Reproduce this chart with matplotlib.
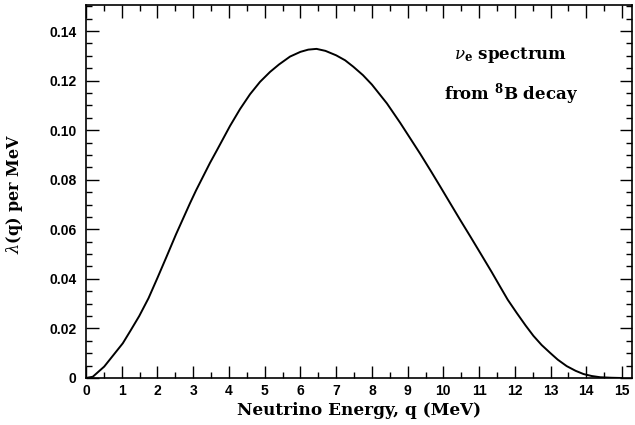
import numpy as np
import matplotlib
matplotlib.use("Agg")
import matplotlib.pyplot as plt
from matplotlib.ticker import MultipleLocator, FixedFormatter

plt.rcParams['mathtext.fontset'] = 'dejavuserif'

# 8B neutrino spectrum
energy = [0.0, 0.19, 0.51, 0.77, 1.03, 1.25, 1.49, 1.75, 2.00, 2.25, 2.52,
          2.91, 3.08, 3.47, 3.66, 4.03, 4.31, 4.59, 4.87, 5.15, 5.40, 5.71,
          6.00, 6.22, 6.45, 6.70, 7.00, 7.25, 7.48, 7.75, 8.00, 8.42, 8.79,
          9.05, 9.35, 9.65, 9.91, 10.20, 10.47, 10.75, 11.03, 11.35, 11.59,
          11.80, 12.05, 12.30, 12.52, 12.75, 12.99, 13.20, 13.45, 13.70,
          13.92, 14.15, 14.39, 14.70, 15.00]
spectrum = [0.0, 0.0005, 0.0046, 0.0093, 0.0140, 0.0192, 0.0250, 0.0322,
            0.0404, 0.0488, 0.0580, 0.0705, 0.0757, 0.0868, 0.0918, 0.1017,
            0.1085, 0.1145, 0.1195, 0.1235, 0.1265, 0.1297, 0.1316, 0.1325,
            0.1328, 0.1320, 0.1302, 0.1282, 0.1256, 0.1222, 0.1184, 0.1108,
            0.1030, 0.0972, 0.0905, 0.0835, 0.0773, 0.0703, 0.0638, 0.0572,
            0.0505, 0.0428, 0.0368, 0.0316, 0.0263, 0.0212, 0.0170, 0.0133,
            0.0101, 0.0074, 0.0048, 0.0029, 0.0016, 0.0008, 0.0003, 0.0001,
            0.0]

x_ticks = list(range(0, 16))
y_ticks = [0, 0.02, 0.04, 0.06, 0.08, 0.10, 0.12, 0.14]
y_tick_labels = ['0', '0.02', '0.04', '0.06', '0.08', '0.10', '0.12', '0.14']

fig = plt.figure(figsize=(6.35, 4.25), dpi=100)
ax = fig.add_axes([0.1354, 0.1106, 0.86, 0.8776])

ax.plot(energy, spectrum, color='black', linewidth=1.4)

ax.set_xlim(0, 15.28)
ax.set_ylim(0, 0.1505)

ax.set_xticks(x_ticks)
ax.set_yticks(y_ticks)
ax.yaxis.set_major_formatter(FixedFormatter(y_tick_labels))
ax.xaxis.set_minor_locator(MultipleLocator(0.5))
ax.yaxis.set_minor_locator(MultipleLocator(0.005))

ax.tick_params(which='both', direction='in', top=True, right=True,
               labelsize=10, width=1.0)
ax.tick_params(axis='x', pad=4)
ax.tick_params(axis='y', pad=7)
ax.tick_params(which='major', length=9)
ax.tick_params(which='minor', length=4.3)
for lab in ax.get_xticklabels() + ax.get_yticklabels():
    lab.set_fontweight('bold')
    lab.set_family('Liberation Sans')
for sp in ax.spines.values():
    sp.set_linewidth(1.2)

ax.set_xlabel('Neutrino Energy, q (MeV)', fontsize=12.2, fontweight='bold',
              family='DejaVu Serif', labelpad=3)
ax.set_ylabel(r'$\lambda$(q) per MeV', fontsize=11.5, fontweight='bold',
              family='DejaVu Serif')
ax.yaxis.set_label_coords(-0.112, 0.495)

ax.text(11.88, 0.1303, r'$\nu_{\mathbf{e}}$ spectrum', fontsize=12,
        fontweight='bold', family='DejaVu Serif', ha='center', va='center')
ax.text(11.88, 0.1146, r'from $^{\mathbf{8}}$B decay', fontsize=12,
        fontweight='bold', family='DejaVu Serif', ha='center', va='center')

fig.savefig('out.png', dpi=100)
